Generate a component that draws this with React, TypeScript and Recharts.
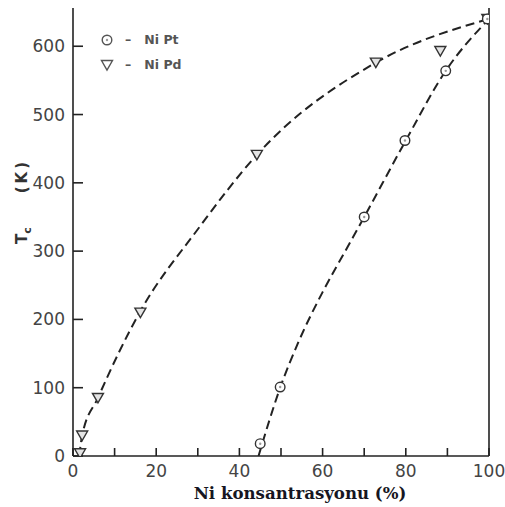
import React from 'react';
import { ComposedChart, Line, Scatter, XAxis, YAxis } from 'recharts';

// measured points (Ni concentration %, Tc in K)
const ptX = [45, 49.8, 70, 79.8, 89.6, 99.6];
const ptY = [18, 101, 350, 462, 564, 640];
const pdX = [1.7, 2.2, 6, 16.2, 44.2, 72.8, 88.3, 99.6];
const pdY = [4, 30, 85, 210, 441, 576, 593, 640];

// dashed guide curves
const ptCurveX = [44.6, 49.8, 54.2, 60, 66, 70, 80, 89.6, 100];
const ptCurveY = [0, 100, 167, 240, 306, 350, 462, 564, 640];
const pdCurveX = [1.5, 2.2, 6, 16, 30, 44.2, 72.8, 100];
const pdCurveY = [0, 30, 85, 210, 332, 441, 576, 640];

const xTicks = [0, 10, 20, 30, 40, 50, 60, 70, 80, 90, 100];
const yTicks = [0, 100, 200, 300, 400, 500, 600];
const rightTicks = [100, 200, 300, 400, 500, 600];

const zip = (xs: number[], ys: number[]) => xs.map((x, i) => ({ x, y: ys[i] }));

const ptData = zip(ptX, ptY);
const pdData = zip(pdX, pdY);
const ptCurve = zip(ptCurveX, ptCurveY);
const pdCurve = zip(pdCurveX, pdCurveY);

const INK = '#222';
const tickFont = { fontFamily: 'DejaVu Sans, sans-serif', fontSize: 17, fill: '#444' };

const Circle = ({ cx, cy }: any) => (
  <g>
    <circle cx={cx} cy={cy} r={4.8} fill="#fff" stroke="#333" strokeWidth={1.4} />
    <circle cx={cx} cy={cy} r={1.2} fill="#999" />
  </g>
);

const Tri = ({ cx, cy }: any) => (
  <polygon
    points={`${cx - 5.5},${cy - 4.5} ${cx + 5.5},${cy - 4.5} ${cx},${cy + 5}`}
    fill="#e4e4e4"
    stroke="#333"
    strokeWidth={1.4}
  />
);

const YLabel = () => (
  <text
    transform="translate(27,244) rotate(-90)"
    fontFamily="DejaVu Sans, sans-serif"
    fontWeight="bold"
    fontSize={15}
    fill="#333"
  >
    <tspan>T</tspan>
    <tspan dy={4} fontSize={11}>c</tspan>
    <tspan dy={-4} dx={34} letterSpacing={3}>(K)</tspan>
  </text>
);

const XLabel = () => (
  <text
    x={300}
    y={499}
    textAnchor="middle"
    fontFamily="DejaVu Serif, serif"
    fontWeight="bold"
    fontSize={16.6}
    fill="#161622"
  >
    Ni konsantrasyonu (%)
  </text>
);

const legendText = { fontFamily: 'DejaVu Sans, sans-serif', fontSize: 12.5, fontWeight: 'bold' as const, color: '#555' };

export default function App() {
  return (
    <div style={{ position: 'absolute', left: 0, top: 0, width: 505, height: 507, background: '#fff' }}>
      <ComposedChart width={505} height={507} margin={{ top: 8, right: 0, left: 0, bottom: 0 }}>
        <XAxis
          type="number"
          dataKey="x"
          domain={[0, 100]}
          ticks={xTicks}
          tickFormatter={(v: number) => (v % 20 === 0 ? String(v) : '')}
          height={51}
          tickSize={-8}
          tickMargin={17}
          axisLine={{ stroke: INK, strokeWidth: 1.6 }}
          tickLine={{ stroke: INK, strokeWidth: 1.6 }}
          tick={tickFont}
          allowDataOverflow
          label={<XLabel />}
        />
        <XAxis
          xAxisId="top"
          orientation="top"
          type="number"
          domain={[0, 100]}
          height={0}
          tick={false}
          tickLine={false}
          axisLine={{ stroke: INK, strokeWidth: 1.6 }}
        />
        <YAxis
          type="number"
          dataKey="y"
          domain={[0, 656]}
          ticks={yTicks}
          width={73}
          tickSize={-10}
          tickMargin={18}
          axisLine={{ stroke: INK, strokeWidth: 1.6 }}
          tickLine={{ stroke: INK, strokeWidth: 1.6 }}
          tick={tickFont}
          allowDataOverflow
          label={<YLabel />}
        />
        <YAxis
          yAxisId="right"
          orientation="right"
          type="number"
          domain={[0, 656]}
          ticks={rightTicks}
          width={16}
          tickSize={-11}
          tickFormatter={() => ''}
          axisLine={{ stroke: INK, strokeWidth: 1.6 }}
          tickLine={{ stroke: INK, strokeWidth: 1.6 }}
        />
        <Line
          data={pdCurve}
          dataKey="y"
          type="monotone"
          stroke={INK}
          strokeWidth={2}
          strokeDasharray="9 5"
          dot={false}
          activeDot={false}
          isAnimationActive={false}
        />
        <Line
          data={ptCurve}
          dataKey="y"
          type="monotone"
          stroke={INK}
          strokeWidth={2}
          strokeDasharray="9 5"
          dot={false}
          activeDot={false}
          isAnimationActive={false}
        />
        <Scatter data={pdData} dataKey="y" shape={<Tri />} isAnimationActive={false} />
        <Scatter data={ptData} dataKey="y" shape={<Circle />} isAnimationActive={false} />
      </ComposedChart>
      <div style={{ position: 'absolute', left: 99, top: 27, lineHeight: '25px' }}>
        <div style={{ display: 'flex', alignItems: 'center' }}>
          <svg width={16} height={16}>
            <circle cx={8} cy={8} r={4.8} fill="#fff" stroke="#555" strokeWidth={1.4} />
            <circle cx={8} cy={8} r={1.2} fill="#999" />
          </svg>
          <span style={{ ...legendText, marginLeft: 10 }}>–&nbsp;&nbsp;&nbsp;Ni Pt</span>
        </div>
        <div style={{ display: 'flex', alignItems: 'center' }}>
          <svg width={16} height={16}>
            <polygon points="2.5,3.5 13.5,3.5 8,13" fill="#fff" stroke="#555" strokeWidth={1.4} />
          </svg>
          <span style={{ ...legendText, marginLeft: 10 }}>–&nbsp;&nbsp;&nbsp;Ni Pd</span>
        </div>
      </div>
    </div>
  );
}
